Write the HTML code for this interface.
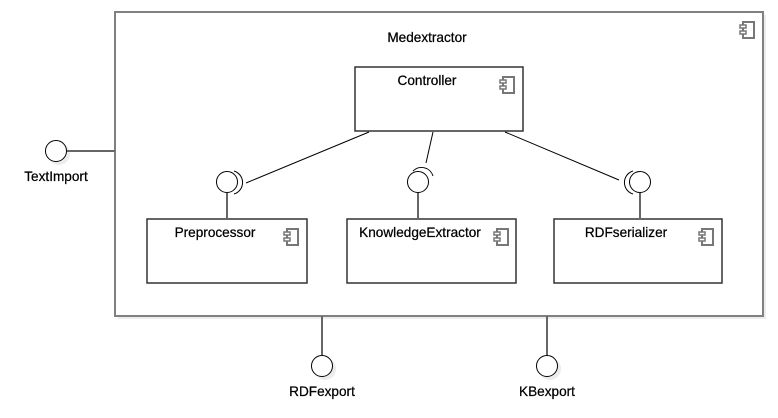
<!DOCTYPE html>
<html><head><meta charset="utf-8"><style>
html,body{margin:0;padding:0;background:#fff;}
svg{display:block}
text{font-family:"Liberation Sans",Arial,sans-serif;font-size:13.6px;fill:#000;stroke:#000;stroke-width:0.25}
</style></head><body>
<svg width="778" height="418" viewBox="0 0 778 418" xmlns="http://www.w3.org/2000/svg">
<defs>
<g id="ic">
<rect x="3" y="0" width="11" height="16" fill="none" stroke="#777" stroke-width="2"/>
<rect x="0" y="3" width="6" height="3" fill="#fff" stroke="#777" stroke-width="1.5"/>
<rect x="0" y="9" width="6" height="3" fill="#fff" stroke="#777" stroke-width="1.5"/>
</g>
</defs>
<g fill="#ececec">
<rect x="118" y="15" width="648" height="304"/>
<rect x="151" y="223" width="162" height="64"/>
<rect x="351" y="223" width="171" height="64"/>
<rect x="558" y="223" width="170" height="64"/>
<rect x="359" y="71" width="170" height="64"/>
<circle cx="59" cy="154" r="11"/><circle cx="325" cy="369" r="11"/><circle cx="550" cy="369" r="11"/>
<circle cx="230" cy="185" r="11"/><circle cx="421" cy="185" r="11"/><circle cx="643" cy="185" r="11"/>
</g>
<rect x="115" y="12" width="648" height="304" fill="#fff" stroke="#808080" stroke-width="2"/>
<use href="#ic" x="740" y="22"/>
<text x="427" y="42" text-anchor="middle">Medextractor</text>

<rect x="355" y="67" width="168" height="64" fill="#fff" stroke="#333" stroke-width="1.5"/>
<use href="#ic" x="500" y="77"/>
<text x="427" y="85" text-anchor="middle">Controller</text>

<rect x="147" y="219" width="160" height="64" fill="#fff" stroke="#333" stroke-width="1.5"/>
<use href="#ic" x="284" y="229"/>
<text x="215" y="237" text-anchor="middle">Preprocessor</text>

<rect x="347" y="219" width="169" height="64" fill="#fff" stroke="#333" stroke-width="1.5"/>
<use href="#ic" x="494" y="229"/>
<text x="420" y="237" text-anchor="middle">KnowledgeExtractor</text>

<rect x="554" y="219" width="168" height="64" fill="#fff" stroke="#333" stroke-width="1.5"/>
<use href="#ic" x="699" y="229"/>
<text x="626" y="237" text-anchor="middle">RDFserializer</text>

<g stroke="#000" stroke-width="1" fill="none">
<line x1="369" y1="132" x2="246" y2="183"/>
<line x1="433" y1="132" x2="426" y2="163"/>
<line x1="505" y1="132" x2="619" y2="180"/>
<path d="M234 171 A12 12 0 0 1 234 194"/>
<path d="M413 171 A12 12 0 0 1 433 176"/>
<path d="M633 171 A12 12 0 0 0 633 194"/>
</g>
<g stroke="#666" stroke-width="2">
<line x1="227" y1="193" x2="227" y2="219"/>
<line x1="418" y1="193" x2="418" y2="219"/>
<line x1="640" y1="193" x2="640" y2="219"/>
<line x1="67" y1="151" x2="115" y2="151"/>
<line x1="322" y1="316" x2="322" y2="355"/>
<line x1="547" y1="316" x2="547" y2="355"/>
</g>
<g fill="#fff" stroke="#000" stroke-width="1">
<circle cx="227" cy="182" r="10.5"/>
<circle cx="418" cy="182" r="10.5"/>
<circle cx="640" cy="182" r="10.5"/>
<circle cx="56" cy="151" r="10.5"/>
<circle cx="322" cy="366" r="10.5"/>
<circle cx="547" cy="366" r="10.5"/>
</g>
<text x="56" y="181" text-anchor="middle">TextImport</text>
<text x="322" y="396" text-anchor="middle">RDFexport</text>
<text x="547" y="396" text-anchor="middle">KBexport</text>
</svg>
</body></html>
